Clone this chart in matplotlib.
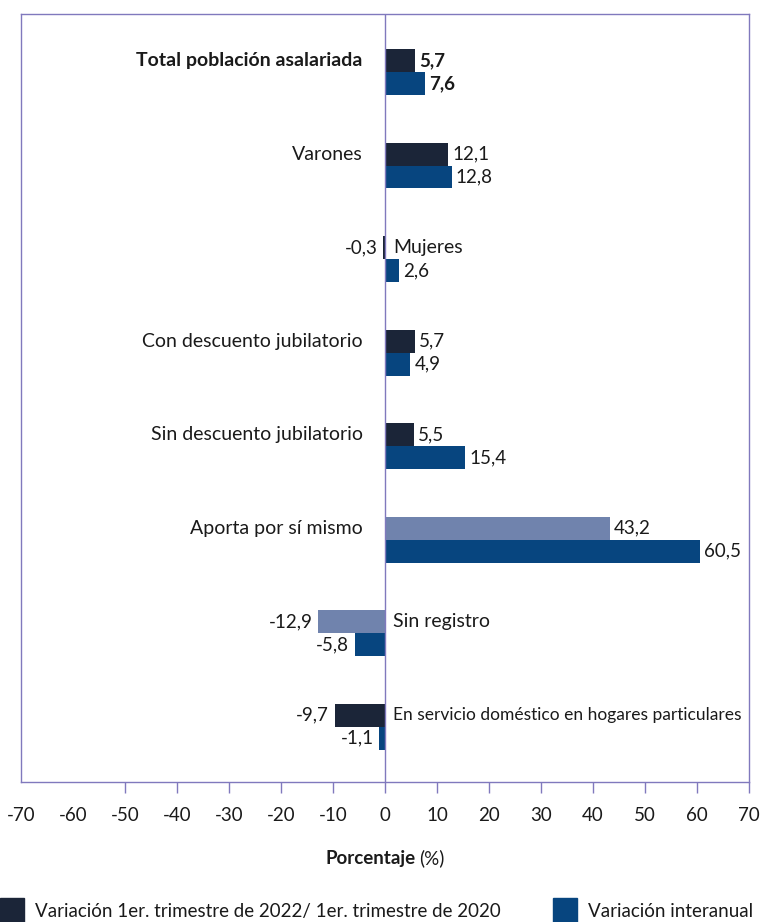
import matplotlib.pyplot as plt
from matplotlib.patches import Rectangle

categories = [
    "Total población asalariada",
    "Varones",
    "Mujeres",
    "Con descuento jubilatorio",
    "Sin descuento jubilatorio",
    "Aporta por sí mismo",
    "Sin registro",
    "En servicio doméstico en hogares particulares",
]
var_2022_2020 = [5.7, 12.1, -0.3, 5.7, 5.5, 43.2, -12.9, -9.7]
var_interanual = [7.6, 12.8, 2.6, 4.9, 15.4, 60.5, -5.8, -1.1]
xticks = [-70, -60, -50, -40, -30, -20, -10, 0, 10, 20, 30, 40, 50, 60, 70]

legend_labels = [
    "Variación 1er. trimestre de 2022/ 1er. trimestre de 2020",
    "Variación interanual",
]

DARK = "#1b2538"
BLUE = "#07457f"
LIGHT = "#7083ad"
FRAME = "#8079bd"
TEXT = "#1a1a1a"
highlight = {"Aporta por sí mismo", "Sin registro"}

plt.rcParams["font.family"] = ["Lato", "DejaVu Sans"]
FS = 13.5
FS_CAT = 14

W, H = 761, 922
fig = plt.figure(figsize=(W / 100, H / 100), dpi=100)
ax = fig.add_axes([21 / W, 1 - 782 / H, 728 / W, 768 / H])

bh = 0.245
ys = list(range(len(categories)))
top_colors = [LIGHT if c in highlight else DARK for c in categories]
ax.barh([y - bh / 2 for y in ys], var_2022_2020, height=bh, color=top_colors, zorder=2)
ax.barh([y + bh / 2 for y in ys], var_interanual, height=bh, color=BLUE, zorder=2)

ax.set_xlim(-70, 70)
ax.set_ylim(7.59, -0.62)
ax.axvline(0, color=FRAME, lw=1.0, zorder=3)


def fmt(v):
    return f"{v:.1f}".replace(".", ",")


for i, cat in enumerate(categories):
    weight = "bold" if i == 0 else "normal"
    for v, y in ((var_2022_2020[i], i - bh / 2), (var_interanual[i], i + bh / 2)):
        if v >= 0:
            ax.annotate(fmt(v), (v, y), xytext=(3, 0), textcoords="offset points",
                        ha="left", va="center", fontsize=FS, fontweight=weight, color=TEXT)
        else:
            ax.annotate(fmt(v), (v, y), xytext=(-4, 0), textcoords="offset points",
                        ha="right", va="center", fontsize=FS, color=TEXT)
    if var_2022_2020[i] > 0:
        ax.annotate(cat, (0, i - bh / 2), xytext=(-16, 0), textcoords="offset points",
                    ha="right", va="center", fontsize=FS_CAT, fontweight=weight, color=TEXT)
    else:
        # the long last label is set a bit smaller so it fits inside the frame
        size = 12.5 if len(cat) > 30 else FS_CAT
        ax.annotate(cat, (0, i - bh / 2), xytext=(6, 0), textcoords="offset points",
                    ha="left", va="center", fontsize=size, color=TEXT)

ax.set_xticks(xticks)
ax.set_xticklabels([str(t) for t in xticks], fontsize=FS, color=TEXT)
ax.tick_params(axis="x", length=8, width=1, color=FRAME, pad=10)
for t in ax.xaxis.get_major_ticks()[:2]:
    t.tick1line.set_visible(False)
ax.set_yticks([])
for s in ax.spines.values():
    s.set_color(FRAME)
    s.set_linewidth(1.0)

fig.text(416 / W, 1 - 858 / H, "Porcentaje", ha="right", va="center",
         fontsize=FS, fontweight="bold", color=TEXT)
fig.text(419 / W, 1 - 858 / H, "(%)", ha="left", va="center", fontsize=FS, color=TEXT)

# legend drawn by hand, it runs off the figure edges like the original
for x0, col, lab in ((0, DARK, legend_labels[0]), (553, BLUE, legend_labels[1])):
    fig.patches.append(Rectangle((x0 / W, 0), 24 / W, 24 / H, transform=fig.transFigure,
                                 color=col, figure=fig))
    fig.text((x0 + 35) / W, 1 - 911 / H, lab, ha="left", va="center", fontsize=FS, color=TEXT)

fig.savefig("out.png", dpi=100)
